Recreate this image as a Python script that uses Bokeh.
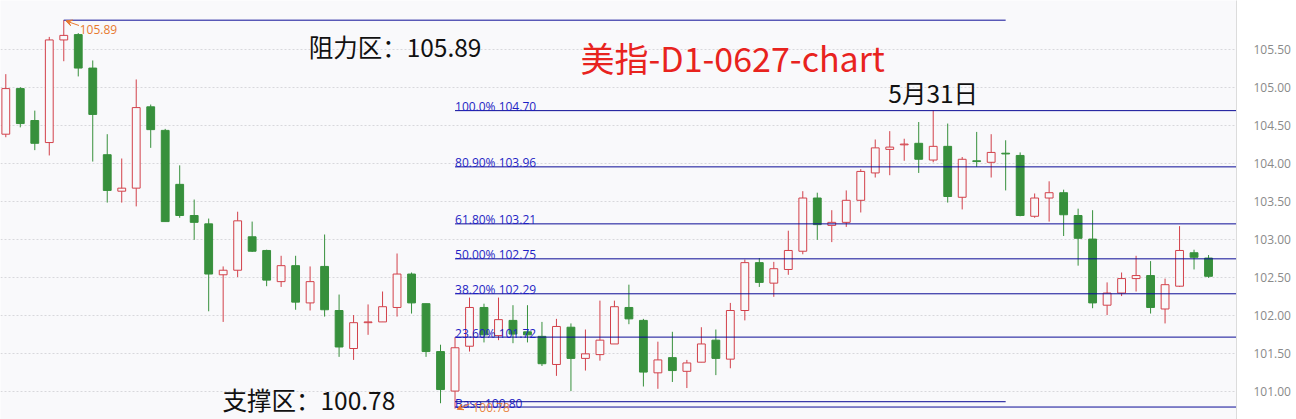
from bokeh.plotting import figure
from bokeh.models import (LinearAxis, FixedTicker, Range1d, Arrow, VeeHead,
                          ColumnDataSource, NumeralTickFormatter, Grid)
from bokeh.embed import file_html
from bokeh.resources import INLINE
from bokeh.core.properties import value

# ---------------- data ----------------
opens = [104.39, 104.99, 104.57, 104.28, 105.63, 105.70, 105.26, 104.12, 103.64, 103.68,
         104.75, 104.44, 103.73, 103.32, 103.21, 102.54, 102.60, 103.04, 102.86, 102.45,
         102.66, 102.17, 102.65, 102.07, 101.57, 101.91, 101.92, 102.11, 102.55, 102.16,
         101.53, 101.01, 101.60, 102.11, 101.74, 101.94, 101.79, 101.73, 101.36, 101.85,
         101.44, 101.49, 101.63, 102.11, 101.94, 101.25, 101.45, 101.27, 101.39, 101.68,
         101.43, 102.07, 102.70, 102.43, 102.61, 102.85, 103.55, 103.19, 103.23, 103.52,
         103.88, 104.19, 104.25, 104.27, 104.05, 104.23, 103.56, 104.04, 104.02, 104.14,
         104.11, 103.31, 103.55, 103.62, 103.32, 103.01, 102.14, 102.30, 102.49, 102.53,
         102.09, 102.39, 102.83, 102.76]
highs = [105.18, 105.01, 104.70, 105.67, 105.89, 105.72, 105.36, 104.39, 104.07, 105.11,
         104.78, 104.46, 103.98, 103.53, 103.28, 102.65, 103.37, 103.24, 102.87, 102.79,
         102.79, 102.65, 103.07, 102.28, 102.01, 102.15, 102.32, 102.82, 102.57, 102.16,
         101.62, 101.72, 102.24, 102.16, 102.24, 102.14, 102.14, 101.92, 101.96, 101.90,
         101.82, 102.20, 102.20, 102.41, 101.96, 101.66, 101.79, 101.42, 101.85, 101.82,
         102.17, 102.74, 102.76, 102.71, 103.12, 103.64, 103.62, 103.39, 103.65, 103.93,
         104.32, 104.43, 104.33, 104.55, 104.70, 104.53, 104.09, 104.42, 104.39, 104.31,
         104.15, 103.61, 103.77, 103.66, 103.41, 103.39, 102.44, 102.57, 102.79, 102.72,
         102.49, 103.18, 102.87, 102.80]
lows = [104.35, 104.48, 104.18, 104.11, 105.35, 105.15, 104.03, 103.49, 103.49, 103.44,
        104.21, 103.24, 103.29, 103.00, 102.06, 101.92, 102.51, 102.84, 102.39, 102.38,
        102.08, 102.07, 101.99, 101.46, 101.42, 101.75, 101.92, 101.99, 102.03, 101.46,
        100.85, 100.78, 101.53, 101.65, 101.68, 101.64, 101.65, 101.34, 101.21, 101.01,
        101.28, 101.41, 101.63, 101.89, 101.07, 101.04, 101.13, 101.05, 101.39, 101.22,
        101.31, 101.94, 102.38, 102.25, 102.54, 102.81, 103.00, 102.97, 103.17, 103.36,
        103.82, 103.85, 104.04, 103.88, 104.02, 103.49, 103.40, 103.96, 103.82, 103.65,
        103.31, 103.29, 103.24, 103.05, 102.66, 102.10, 102.01, 102.26, 102.32, 102.03,
        101.90, 102.38, 102.61, 102.50]
closes = [104.99, 104.53, 104.27, 105.63, 105.69, 105.26, 104.65, 103.65, 103.68, 104.74,
          104.45, 103.24, 103.32, 103.23, 102.55, 102.60, 103.25, 102.85, 102.47, 102.66,
          102.18, 102.45, 102.08, 101.59, 101.91, 101.92, 102.12, 102.55, 102.17, 101.53,
          101.03, 101.58, 102.11, 101.75, 101.95, 101.76, 101.75, 101.37, 101.86, 101.44,
          101.50, 101.68, 102.12, 101.96, 101.26, 101.42, 101.28, 101.38, 101.63, 101.44,
          102.07, 102.70, 102.44, 102.62, 102.86, 103.55, 103.20, 103.23, 103.52, 103.90,
          104.21, 104.22, 104.26, 104.06, 104.23, 103.57, 104.06, 104.03, 104.15, 104.13,
          103.32, 103.55, 103.62, 103.33, 103.02, 102.17, 102.30, 102.49, 102.53, 102.11,
          102.41, 102.86, 102.77, 102.52]

fib_names = ["100.0%", "80.90%", "61.80%", "50.00%", "38.20%", "23.60%", "Base"]
fib_values = [104.70, 103.96, 103.21, 102.75, 102.29, 101.72, 100.80]

y_ticks = [101.0, 101.5, 102.0, 102.5, 103.0, 103.5, 104.0, 104.5, 105.0, 105.5]

resist_value = 105.89
support_value = 100.78
title_text = "美指-D1-0627-chart"
date_label = "5月31日"

# indices of reference candles
idx_high = 4        # 105.89 high candle
idx_low = 31        # 100.78 low candle / fib base
idx_may31 = 64      # 5月31日 candle (104.70 high)
idx_line_end = 69   # end of the resistance line

# ---------------- colours ----------------
UP = "#d2404a"
DOWN = "#37903c"
BG = "#f9f9fb"
FIB = "#0c0c96"
FIBTXT = "#1f1fc4"
ORANGE = "#e8792f"

n = len(opens)
xs = list(range(n))
up = [c >= o for o, c in zip(opens, closes)]


def pick(cond):
    ids = [i for i in xs if up[i] == cond]
    return ColumnDataSource(dict(
        x=ids,
        top=[max(opens[i], closes[i]) for i in ids],
        bottom=[min(opens[i], closes[i]) for i in ids],
        h=[highs[i] for i in ids],
        l=[lows[i] for i in ids],
    ))


src_up = pick(True)
src_dn = pick(False)

p = figure(width=1296, height=419, output_backend="svg", toolbar_location=None,
           x_range=Range1d(-0.366, 84.93), y_range=Range1d(100.636, 106.149),
           x_axis_location=None, y_axis_location=None,
           background_fill_color=BG, border_fill_color="white",
           min_border_left=0, min_border_top=0, min_border_bottom=0, min_border_right=60)
p.outline_line_color = None

# drop the default grids, keep only a dotted horizontal grid
for r in list(p.center):
    if isinstance(r, Grid):
        r.visible = False

ticker = FixedTicker(ticks=y_ticks)
grid = Grid(dimension=1, ticker=ticker, grid_line_color="#d8d8dc",
            grid_line_dash="2 2", grid_line_width=1)
p.add_layout(grid)

yaxis = LinearAxis(ticker=ticker, formatter=NumeralTickFormatter(format="0.00"))
yaxis.axis_line_color = "#dcdcdc"
yaxis.major_tick_line_color = None
yaxis.minor_tick_line_color = None
yaxis.major_tick_out = 0
yaxis.major_tick_in = 0
yaxis.minor_tick_out = 0
yaxis.minor_tick_in = 0
yaxis.major_label_standoff = 17
yaxis.major_label_text_color = "#8a8a8a"
yaxis.major_label_text_font = "Open Sans"
yaxis.major_label_text_font_size = "12px"
p.add_layout(yaxis, "right")

# candles
p.segment(x0="x", y0="h", x1="x", y1="l", source=src_up, line_color=UP, line_width=1)
p.segment(x0="x", y0="h", x1="x", y1="l", source=src_dn, line_color=DOWN, line_width=1)
p.vbar(x="x", top="top", bottom="bottom", width=0.54, source=src_up,
       fill_color=BG, line_color=UP, line_width=1)
p.vbar(x="x", top="top", bottom="bottom", width=0.54, source=src_dn,
       fill_color=DOWN, line_color=DOWN, line_width=1)

# fibonacci levels
fx0 = [idx_low] * len(fib_values)
p.segment(x0=fx0, y0=fib_values, x1=[95] * len(fib_values), y1=fib_values,
          line_color=FIB, line_width=1)
p.text(x=fx0, y=fib_values, text=[f"{a} {v:.2f}" for a, v in zip(fib_names, fib_values)],
       text_color=FIBTXT, text_font=value("Open Sans"), text_font_size="12px",
       text_baseline="alphabetic", text_align="left", y_offset=-4)

# resistance line at the top
p.segment(x0=[idx_high], y0=[resist_value], x1=[idx_line_end], y1=[resist_value],
          line_color=FIB, line_width=1)
# second line near the base
p.segment(x0=[idx_low], y0=[support_value + 0.09], x1=[idx_line_end], y1=[support_value + 0.09],
          line_color=FIB, line_width=1)

# orange high / low markers
p.add_layout(Arrow(end=VeeHead(size=6, line_color=ORANGE, fill_color=ORANGE, line_width=1),
                   x_start=idx_high + 1.05, y_start=resist_value - 0.07,
                   x_end=idx_high + 0.15, y_end=resist_value - 0.01,
                   line_color=ORANGE, line_width=1))
p.text(x=[idx_high + 1.1], y=[resist_value], text=[f"{resist_value:.2f}"],
       text_color=ORANGE, text_font=value("Open Sans"), text_font_size="12px",
       text_baseline="middle", text_align="left", y_offset=9)
p.add_layout(Arrow(end=VeeHead(size=6, line_color=ORANGE, fill_color=ORANGE, line_width=1),
                   x_start=idx_low + 1.0, y_start=support_value + 0.06,
                   x_end=idx_low + 0.15, y_end=support_value - 0.01,
                   line_color=ORANGE, line_width=1))
p.text(x=[idx_low + 1.2], y=[support_value], text=[f"{support_value:.2f}"],
       text_color=ORANGE, text_font=value("Open Sans"), text_font_size="12px",
       text_baseline="alphabetic", text_align="left", y_offset=-1, text_alpha=0.9)

# big annotations
cjk = value("Noto Sans CJK SC")
p.text(x=[20.9], y=[105.54], text=[f"阻力区：{resist_value:.2f}"], text_color="#111111",
       text_font=cjk, text_font_size="24.5px", text_baseline="middle", text_align="left")
p.text(x=[39.66], y=[105.40], text=[title_text], text_color="#e8231e",
       text_font=cjk, text_font_size="34px", text_baseline="middle", text_align="left")
p.text(x=[idx_may31], y=[highs[idx_may31]], text=[date_label], text_color="#111111",
       text_font=cjk, text_font_size="24.5px", text_baseline="middle", text_align="center",
       y_offset=-18)
p.text(x=[14.95], y=[100.90], text=[f"支撑区：{support_value:.2f}"], text_color="#111111",
       text_font=cjk, text_font_size="24.5px", text_baseline="middle", text_align="left")

open("out.html", "w").write(file_html(p, INLINE))
